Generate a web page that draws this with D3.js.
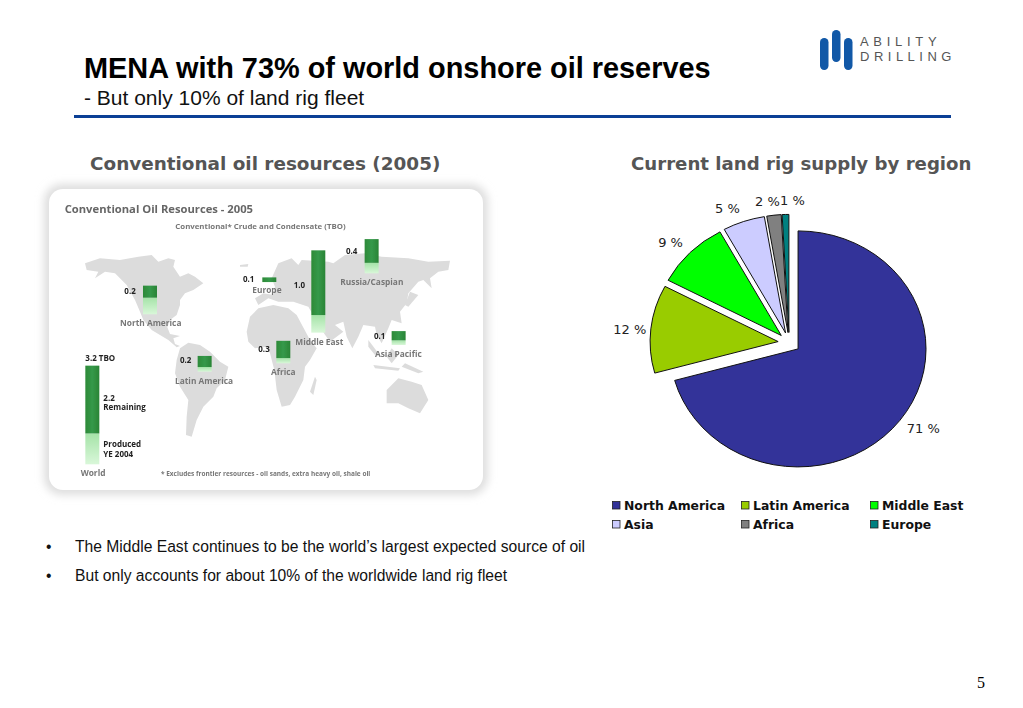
<!DOCTYPE html>
<html><head><meta charset="utf-8">
<script src="https://cdn.jsdelivr.net/npm/d3@7"></script>
<style>html,body{margin:0;padding:0;background:#fff}svg{display:block}</style>
</head><body><svg id="c" width="1023" height="708"></svg>
<script>
// ---------- chart data ----------
const regions = ["North America","Latin America","Middle East","Asia","Africa","Europe"];
const shares = [70.7,12.05,9.3,5.3,1.8,0.85];
const colors = ["#333399","#99cc00","#00ff00","#ccccff","#808080","#008080"];
const labelNudgeX = [8,-2,-6,-10,-4.4,7.5];
const labelNudgeY = [-3,3,2,3.7,4,3.3];

// ---------- map-panel data (bar lengths) ----------
const panelRegions = ["World","North America","Latin America","Europe","Africa","Middle East","Russia/Caspian","Asia Pacific"];
const remaining = [2.2,0.39,0.36,0.15,0.56,2.1,0.77,0.3];
const produced  = [1.0,0.54,0.15,0.01,0.17,0.57,0.34,0.15];
const panelLabels = ["3.2 TBO","0.2","0.2","0.1","0.3","1.0","0.4","0.1"];

const svg = d3.select("#c");
const SANS = "'Liberation Sans',Arial,sans-serif", VER = "'DejaVu Sans',Verdana,sans-serif";
const defs = svg.append("defs");
defs.append("filter").attr("id","soft").attr("x","-10%").attr("y","-10%").attr("width","120%").attr("height","120%")
  .append("feGaussianBlur").attr("stdDeviation",4);
defs.append("filter").attr("id","b").attr("x","-5%").attr("y","-5%").attr("width","110%").attr("height","110%")
  .append("feGaussianBlur").attr("stdDeviation",1.1);
defs.append("filter").attr("id","b2").attr("x","-5%").attr("y","-5%").attr("width","110%").attr("height","110%")
  .append("feGaussianBlur").attr("stdDeviation",0.45);
const g1 = defs.append("linearGradient").attr("id","lt").attr("x1",0).attr("y1",0).attr("x2",0).attr("y2",1);
g1.append("stop").attr("offset",0).attr("stop-color","#a5e3a8");
g1.append("stop").attr("offset",1).attr("stop-color","#d9f7d9");
const g2 = defs.append("linearGradient").attr("id","dk").attr("x1",0).attr("y1",0).attr("x2",1).attr("y2",0);
g2.append("stop").attr("offset",0).attr("stop-color","#2d8a38");
g2.append("stop").attr("offset",.5).attr("stop-color","#35994a");
g2.append("stop").attr("offset",1).attr("stop-color","#2a8436");

// ---------- header ----------
function T(x,y,s,size,o={}){
  return svg.append("text").attr("x",x).attr("y",y).text(s)
    .attr("font-family",o.f||SANS).attr("font-size",size)
    .attr("font-weight",o.w||"normal").attr("fill",o.c||"#000")
    .attr("text-anchor",o.a||"start");
}
T(84,78,"MENA with 73% of world onshore oil reserves",28.9,{w:"bold"});
T(84,105,"- But only 10% of land rig fleet",21,{c:"#111"});
svg.append("rect").attr("x",74).attr("y",115).attr("width",877).attr("height",3).attr("fill","#0b3f95");
T(90,170,"Conventional oil resources (2005)",18.4,{f:VER,w:"bold",c:"#555"});
T(631,170,"Current land rig supply by region",18.15,{f:VER,w:"bold",c:"#555"});
T(46,552,"•",15.65,{c:"#111"}); T(75,552,"The Middle East continues to be the world’s largest expected source of oil",15.65,{c:"#111"});
T(46,581,"•",15.65,{c:"#111"}); T(75,581,"But only accounts for about 10% of the worldwide land rig fleet",15.65,{c:"#111"});
T(977,688,"5",16,{f:"'Liberation Serif',serif"});

// ---------- logo ----------
const logo = svg.append("g").attr("fill","#1158a7");
[[820,38],[832,30],[844,38]].forEach(p=>logo.append("rect").attr("x",p[0]).attr("y",p[1]).attr("width",8.5).attr("height",32).attr("rx",4.2));
T(860,46,"ABILITY",13,{c:"#555"}).attr("letter-spacing",4.7);
T(860,61,"DRILLING",13,{c:"#555"}).attr("letter-spacing",4.5);

// ---------- map panel ----------
svg.append("rect").attr("x",44).attr("y",184).attr("width",444).attr("height",311).attr("rx",18).attr("fill","#dedede").attr("filter","url(#soft)");
svg.append("rect").attr("x",49).attr("y",189).attr("width",434).attr("height",301).attr("rx",14).attr("fill","#fff");
const landL = [
 [[15,70],[60,55],[120,60],[175,50],[215,45],[235,65],[265,55],[285,60],[280,80],[300,110],[325,100],[345,110],[370,130],[340,150],[315,160],[300,180],[300,195],[290,225],[270,240],[262,262],[270,282],[300,288],[280,295],[285,312],[300,318],[290,322],[265,300],[240,285],[215,270],[190,240],[180,215],[165,180],[140,135],[105,100],[75,95],[45,115],[55,95],[20,90]],
 [[300,325],[325,308],[360,315],[390,335],[420,365],[445,380],[435,420],[410,445],[400,470],[370,500],[350,540],[335,590],[318,585],[320,530],[325,480],[300,440],[285,400],[290,360]]
];
const landR = [
 [[35,275],[45,230],[70,205],[115,195],[160,205],[185,225],[225,300],[245,325],[225,360],[210,380],[205,420],[180,470],[165,495],[140,500],[125,450],[118,390],[105,340],[95,320],[60,325],[40,305]],
 [[240,410],[245,420],[235,465],[225,455]],
 [[60,175],[85,160],[115,165],[120,140],[110,115],[130,70],[170,55],[190,75],[200,60],[280,65],[295,70],[330,45],[390,40],[440,50],[520,55],[580,65],[645,62],[640,90],[610,95],[585,115],[590,145],[565,120],[550,125],[520,160],[515,190],[495,215],[500,250],[470,240],[460,265],[440,310],[425,285],[420,260],[385,255],[370,290],[352,325],[335,290],[325,245],[300,255],[325,275],[285,305],[260,270],[220,200],[175,185],[130,185],[100,175],[70,195]],
 [[525,155],[550,165],[520,200],[510,195]],
 [[455,450],[490,415],[530,425],[560,435],[580,480],[555,520],[520,505],[490,490],[455,490]],
 [[400,300],[430,340],[420,345],[400,320]],[[470,325],[490,345],[470,370],[455,350]],[[415,375],[495,385],[490,392],[420,385]],[[510,370],[565,395],[550,400],[500,380]],
 [[15,75],[40,72],[38,80],[15,80]]
];
const cropX = (o)=>d3.scaleLinear().domain([0,3]).range([o,o+1]);
const cropY = d3.scaleLinear().domain([0,3]).range([240,241]);
const landGroup = svg.append("g").attr("filter","url(#b2)");
[[landL,80],[landR,235]].forEach(([set,o])=>{
  const line = d3.line().x(p=>cropX(o)(p[0])).y(p=>cropY(p[1])).curve(d3.curveLinearClosed);
  set.forEach(s=>landGroup.append("path").attr("d",line(s)).attr("fill","#dcdcdc"));
});
const panel = svg.append("g").attr("transform","translate(40,180) scale(0.3333)").attr("filter","url(#b)");

const barX = [136,309,473,667,709,814,974,1055];
const barBase = [853,403,575,307,550,458,280,495];
const len = d3.scaleLinear().domain([0,1]).range([0,92.5]);
panelRegions.forEach((r,i)=>{
  const h2 = len(produced[i]), h1 = len(remaining[i]);
  panel.append("rect").attr("x",barX[i]).attr("width",42).attr("y",barBase[i]-h2).attr("height",h2).attr("fill","url(#lt)");
  panel.append("rect").attr("x",barX[i]).attr("width",42).attr("y",barBase[i]-h2-h1).attr("height",h1).attr("fill","url(#dk)");
});
function P(x,y,s,size,c,o={}){
  return panel.append("text").attr("x",x).attr("y",y).text(s).attr("font-family","'Open Sans',sans-serif")
    .attr("font-weight",o.w||700).attr("font-size",size).attr("fill",c).attr("text-anchor",o.a||"start");
}
P(74,98,"Conventional Oil Resources - 2005",33.7,"#666");
P(406,148,"Conventional* Crude and Condensate (TBO)",23.5,"#777");
const lblPos = [[136,542],[253,343],[420,549],[609,307],[655,516],[761,324],[918,221],[1002,476]];
panelLabels.forEach((s,i)=>P(lblPos[i][0],lblPos[i][1],s,24,"#222"));
const namePos = [[122,889],[240,439],[405,612],[637,339],[693,584],[766,495],[901,315],[1005,530]];
panelRegions.forEach((s,i)=>P(namePos[i][0],namePos[i][1],s,25,"#777"));
P(190,662,"2.2",24,"#222"); P(190,690,"Remaining",24,"#222");
P(190,802,"Produced",24,"#222"); P(190,830,"YE 2004",24,"#222");
P(363,887,"* Excludes frontier resources - oil sands, extra heavy oil, shale oil",19.5,"#777");

// ---------- pie ----------
const cx = 789.2, cy = 342.7, rx = 128, ry = 118, ex = 0.087;
const pie = d3.pie().sort(null).value(d=>d)(shares);
const arc = d3.arc().innerRadius(0).outerRadius(1);
const fmt = d3.format(".0f");
const chart = svg.append("g");
pie.forEach((d,i)=>{
  const mid = (d.startAngle+d.endAngle)/2, sx = Math.sin(mid)*rx, sy = -Math.cos(mid)*ry;
  chart.append("path").attr("d",arc(d))
    .attr("transform",`translate(${cx+ex*sx},${cy+ex*sy}) scale(${rx},${ry})`)
    .attr("fill",colors[i]).attr("stroke","#111").attr("stroke-width",1)
    .attr("vector-effect","non-scaling-stroke");
  const f = ex+1.15;
  chart.append("text").attr("x",cx+f*sx+labelNudgeX[i]).attr("y",cy+f*sy+labelNudgeY[i]+4.5)
    .attr("text-anchor","middle").attr("font-family",VER).attr("font-size",13).attr("fill","#222")
    .text(fmt(shares[i])+" %");
});

// ---------- legend ----------
const legX = d3.scalePoint().domain([0,1,2]).range([612,870]);
const legY = d3.scalePoint().domain([0,1]).range([510,529]);
regions.forEach((r,i)=>{
  const x = legX(i%3), y = legY(Math.floor(i/3));
  svg.append("rect").attr("x",x+.5).attr("y",y-8.5).attr("width",7.5).attr("height",7.5).attr("fill",colors[i]).attr("stroke","#222").attr("stroke-width",.8);
  T(x+12,y,r,12.4,{f:VER,w:"bold",c:"#111"});
});
</script></body></html>
